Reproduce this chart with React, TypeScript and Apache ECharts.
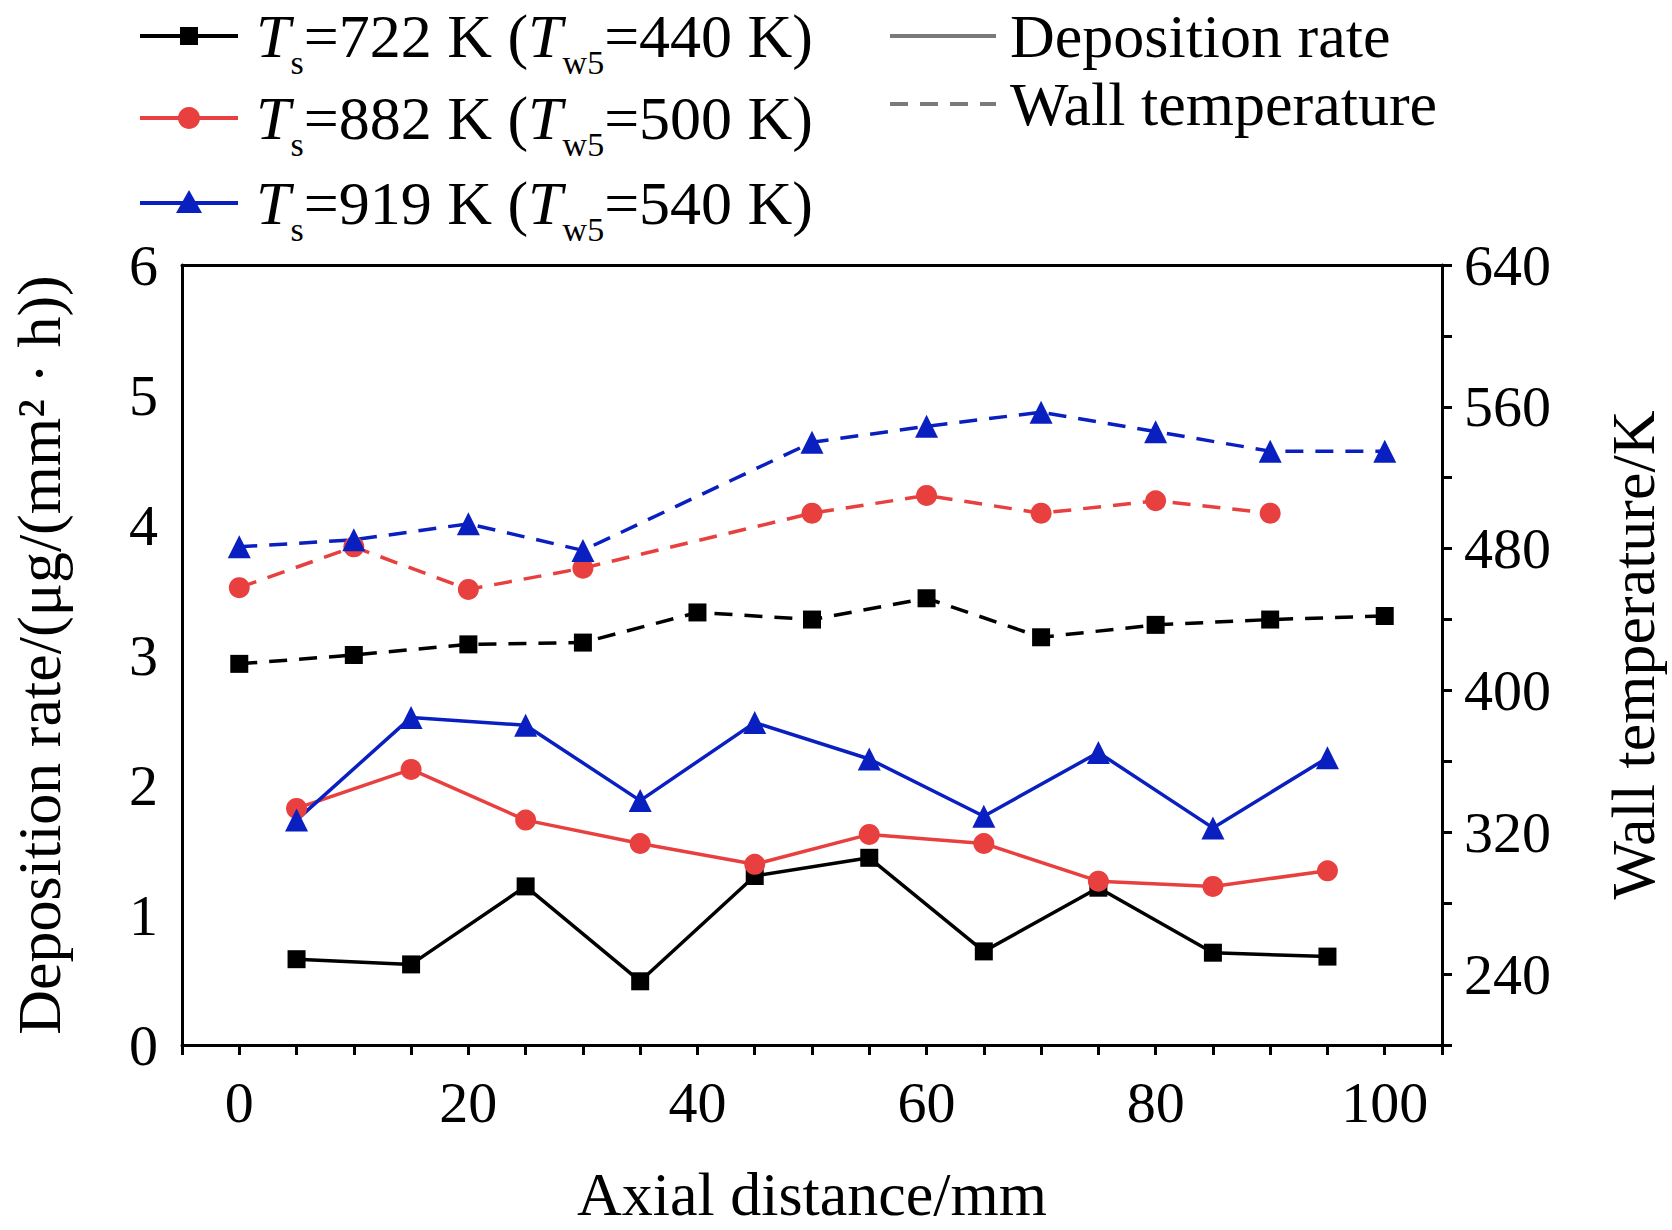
import { useEffect, useRef } from "react";
import * as echarts from "echarts";

const rateX = [5, 15, 25, 35, 45, 55, 65, 75, 85, 95];
const rate722 = [0.66, 0.62, 1.22, 0.49, 1.3, 1.44, 0.72, 1.21, 0.71, 0.68];
const rate882 = [1.82, 2.12, 1.73, 1.55, 1.39, 1.62, 1.55, 1.26, 1.22, 1.34];
const rate919 = [1.73, 2.52, 2.46, 1.88, 2.48, 2.2, 1.76, 2.25, 1.67, 2.21];

const wall722: [number, number][] = [
  [0, 415], [10, 420], [20, 426], [30, 427], [40, 444], [50, 440],
  [60, 452], [70, 430], [80, 437], [90, 440], [100, 442],
];
const wall882: [number, number][] = [
  [0, 458], [10, 481], [20, 457], [30, 469], [50, 500], [60, 510],
  [70, 500], [80, 507], [90, 500],
];
const wall919: [number, number][] = [
  [0, 481], [10, 485], [20, 494], [30, 479], [50, 540], [60, 549],
  [70, 557], [80, 546], [90, 535], [100, 535],
];

const FONT = "Liberation Serif";
const BLACK = "#000000";
const RED = "#e8403f";
const BLUE = "#0a1fc0";

function legendEntry(y: number, color: string, symbol: string, ts: string, tw: string) {
  const marker =
    symbol === "rect"
      ? { type: "rect", shape: { x: 180, y: y - 9, width: 18, height: 18 }, style: { fill: color } }
      : symbol === "circle"
      ? { type: "circle", shape: { cx: 189, cy: y, r: 11 }, style: { fill: color } }
      : { type: "polygon", shape: { points: [[189, y - 13], [176, y + 10], [202, y + 10]] }, style: { fill: color } };
  return [
    { type: "line", shape: { x1: 140, y1: y, x2: 238, y2: y }, style: { stroke: color, lineWidth: 4 } },
    marker,
    {
      type: "text",
      x: 256,
      y: y,
      style: {
        text: `{i|T}{sub|s}{n|=${ts} K (}{i|T}{sub|w5}{n|=${tw} K)}`,
        verticalAlign: "middle",
        rich: {
          i: { fontFamily: FONT, fontSize: 62, fontStyle: "italic", fill: BLACK },
          n: { fontFamily: FONT, fontSize: 62, fill: BLACK },
          sub: { fontFamily: FONT, fontSize: 34, fill: BLACK, padding: [52, 0, 0, 0] },
        },
      },
    },
  ];
}

export default function App() {
  const ref = useRef<HTMLDivElement>(null);

  useEffect(() => {
    document.body.style.margin = "0";
    if (!ref.current) return;
    const chart = echarts.init(ref.current, null, { renderer: "svg" });
    const axisText = { fontFamily: FONT, fontSize: 58, color: BLACK };
    const line = { onZero: false, lineStyle: { color: BLACK, width: 3 } };

    const rateSeries = (name: string, ys: number[], color: string, symbol: string, size: number) => ({
      name,
      type: "line",
      yAxisIndex: 0,
      data: rateX.map((x, i) => [x, ys[i]]),
      symbol,
      symbolSize: size,
      lineStyle: { color, width: 3.5 },
      itemStyle: { color },
    });
    const wallSeries = (name: string, d: [number, number][], color: string, symbol: string, size: number) => ({
      name,
      type: "line",
      yAxisIndex: 1,
      data: d,
      symbol,
      symbolSize: size,
      lineStyle: { color, width: 3.5, type: [18, 12] },
      itemStyle: { color },
    });

    chart.setOption({
      animation: false,
      grid: { left: 165, right: 211, top: 265, bottom: 171 },
      xAxis: [
        {
          type: "value",
          min: -5,
          max: 105,
          interval: 5,
          axisLine: line,
          axisTick: { show: true, length: 10, lineStyle: { color: BLACK, width: 3 }, interval: 0 },
          axisLabel: {
            ...axisText,
            margin: 28,
            formatter: (v: number) => (v >= 0 && v % 20 === 0 ? String(v) : ""),
          },
          splitLine: { show: false },
          name: "Axial distance/mm",
          nameLocation: "middle",
          nameGap: 118,
          nameTextStyle: { fontFamily: FONT, fontSize: 62, color: BLACK },
        },
        {
          type: "value",
          position: "top",
          min: -5,
          max: 105,
          axisLine: line,
          axisTick: { show: false },
          axisLabel: { show: false },
          splitLine: { show: false },
        },
      ],
      yAxis: [
        {
          type: "value",
          min: 0,
          max: 6,
          interval: 1,
          axisLine: { show: true, ...line },
          axisTick: { show: false },
          axisLabel: { ...axisText, margin: 24 },
          splitLine: { show: false },
          name: "Deposition rate/(μg/(mm² · h))",
          nameLocation: "middle",
          nameGap: 112,
          nameTextStyle: { fontFamily: FONT, fontSize: 62, color: BLACK },
        },
        {
          type: "value",
          min: 200,
          max: 640,
          interval: 40,
          axisLine: { show: true, ...line },
          axisTick: { show: true, length: 10, lineStyle: { color: BLACK, width: 3 } },
          axisLabel: {
            ...axisText,
            margin: 22,
            formatter: (v: number) => (v >= 240 && (v - 240) % 80 === 0 ? String(v) : ""),
          },
          splitLine: { show: false },
          name: "Wall temperature/K",
          nameLocation: "middle",
          nameGap: 160,
          nameRotate: 90,
          nameTextStyle: { fontFamily: FONT, fontSize: 62, color: BLACK },
        },
      ],
      series: [
        rateSeries("r722", rate722, BLACK, "rect", 18),
        rateSeries("r882", rate882, RED, "circle", 21),
        rateSeries("r919", rate919, BLUE, "triangle", 23),
        wallSeries("w722", wall722, BLACK, "rect", 18),
        wallSeries("w882", wall882, RED, "circle", 21),
        wallSeries("w919", wall919, BLUE, "triangle", 23),
      ],
      graphic: [
        ...legendEntry(36, BLACK, "rect", "722", "440"),
        ...legendEntry(118, RED, "circle", "882", "500"),
        ...legendEntry(203, BLUE, "triangle", "919", "540"),
        { type: "line", shape: { x1: 890, y1: 36, x2: 996, y2: 36 }, style: { stroke: "#7a7a7a", lineWidth: 4 } },
        { type: "line", shape: { x1: 890, y1: 104, x2: 996, y2: 104 }, style: { stroke: "#7a7a7a", lineWidth: 4, lineDash: [18, 12] } },
        { type: "text", x: 1010, y: 36, style: { text: "Deposition rate", fontFamily: FONT, fontSize: 62, fill: BLACK, verticalAlign: "middle" } },
        { type: "text", x: 1010, y: 104, style: { text: "Wall temperature", fontFamily: FONT, fontSize: 62, fill: BLACK, verticalAlign: "middle" } },
      ],
    });
    return () => chart.dispose();
  }, []);

  return <div ref={ref} style={{ width: 1672, height: 1230 }} />;
}
